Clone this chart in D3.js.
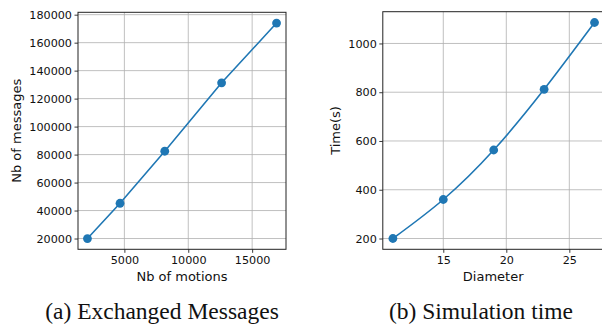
<!DOCTYPE html>
<html><head><meta charset="utf-8">
<script src="https://cdn.jsdelivr.net/npm/d3@7"></script>
<style>body{margin:0;background:#fff}svg{display:block}</style>
</head><body>
<script>
// Data
const motions = [2110, 4660, 8160, 12610, 16910];
const messages = [20000, 45200, 82400, 131300, 174000];
const msgYTicks = [20000, 40000, 60000, 80000, 100000, 120000, 140000, 160000, 180000];
const msgXTicks = [5000, 10000, 15000];

const diameters = [11, 15, 19, 23, 27];
const times = [200, 360, 563, 812, 1086];
const timeYTicks = [200, 400, 600, 800, 1000];
const timeXTicks = [15, 20, 25];

const W = 602, H = 324;
const svg = d3.select("body").append("svg").attr("width", W).attr("height", H);
const blue = "#1f77b4";
const font = "DejaVu Sans";
const ink = "#111";

function pad(ext){ const s = ext[1]-ext[0]; return [ext[0]-0.05*s, ext[1]+0.05*s]; }

function panel(o){
  const x = d3.scaleLinear().domain(pad(d3.extent(o.xs))).range([o.left, o.right]);
  const y = d3.scaleLinear().domain(pad(d3.extent(o.ys))).range([o.bottom, o.top]);
  const g = svg.append("g");
  // grid
  g.selectAll(null).data(o.xt).enter().append("line")
    .attr("x1", d=>x(d)).attr("x2", d=>x(d)).attr("y1", o.top).attr("y2", o.bottom)
    .attr("stroke", "#b0b0b0").attr("stroke-width", 0.8);
  g.selectAll(null).data(o.yt).enter().append("line")
    .attr("y1", d=>y(d)).attr("y2", d=>y(d)).attr("x1", o.left).attr("x2", o.right)
    .attr("stroke", "#b0b0b0").attr("stroke-width", 0.8);
  // line
  const data = o.xs.map((v,i)=>[v, o.ys[i]]);
  g.append("path").datum(data)
    .attr("d", d3.line().x(d=>x(d[0])).y(d=>y(d[1])).curve(o.curve))
    .attr("fill", "none").attr("stroke", blue).attr("stroke-width", 1.6);
  g.selectAll(null).data(data).enter().append("circle")
    .attr("cx", d=>x(d[0])).attr("cy", d=>y(d[1])).attr("r", 4.4).attr("fill", blue);
  // spines
  g.append("rect").attr("x", o.left).attr("y", o.top)
    .attr("width", o.right-o.left).attr("height", o.bottom-o.top)
    .attr("fill", "none").attr("stroke", "#222").attr("stroke-width", 1);
  // axes
  const ax = d3.axisBottom(x).tickValues(o.xt).tickSize(3.5).tickSizeOuter(0).tickFormat(d3.format("d"));
  const axg = g.append("g").attr("transform", `translate(0,${o.bottom})`).call(ax);
  const ay = d3.axisLeft(y).tickValues(o.yt).tickSize(3.5).tickSizeOuter(0).tickFormat(d3.format("d"));
  const ayg = g.append("g").attr("transform", `translate(${o.left},0)`).call(ay);
  [axg, ayg].forEach(a=>{
    a.select(".domain").remove();
    a.selectAll(".tick line").attr("stroke", "#222").attr("stroke-width", 0.9);
    a.selectAll(".tick text").attr("font-family", font).attr("font-size", 11.2).attr("fill", ink);
  });
  axg.selectAll(".tick text").attr("dy", "0.71em").attr("y", 7);
  ayg.selectAll(".tick text").attr("x", -6);
  // labels
  g.append("text").attr("x", (o.left+o.right)/2 + (o.xlOff||0)).attr("y", 281)
    .attr("text-anchor", "middle")
    .attr("font-family", font).attr("font-size", 13).attr("fill", ink).text(o.xlabel);
  g.append("text").attr("transform", `translate(${o.ylx},${(o.top+o.bottom)/2}) rotate(-90)`)
    .attr("text-anchor", "middle").attr("dominant-baseline", "central")
    .attr("font-family", font).attr("font-size", 13).attr("fill", ink).text(o.ylabel);
  svg.append("text").attr("x", o.capx).attr("y", 319).attr("text-anchor", "middle")
    .attr("font-family", "Liberation Serif").attr("font-size", 23.5).attr("fill", "#111").text(o.caption);
}

panel({xs: motions, ys: messages, xt: msgXTicks, yt: msgYTicks,
  left: 78, right: 286, top: 12.3, bottom: 249.3, curve: d3.curveLinear,
  xlabel: "Nb of motions", ylabel: "Nb of messages", ylx: 16, capx: 162,
  caption: "(a) Exchanged Messages"});

panel({xs: diameters, ys: times, xt: timeXTicks, yt: timeYTicks,
  left: 382.8, right: 604.6, top: 11.7, bottom: 249.3, curve: d3.curveNatural,
  xlabel: "Diameter", ylabel: "Time(s)", ylx: 335.5, capx: 481, xlOff: -0.5,
  caption: "(b) Simulation time"});
</script>
</body></html>
